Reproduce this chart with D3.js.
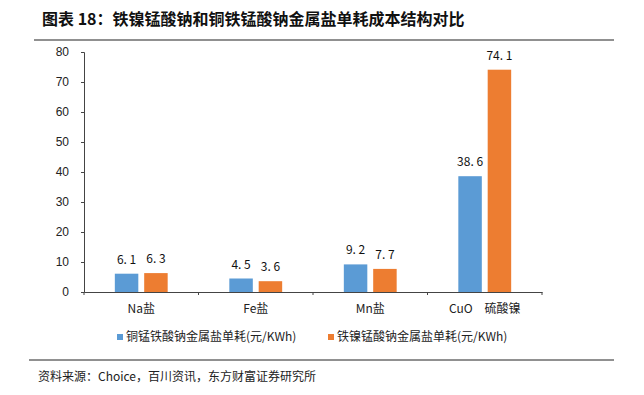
<!DOCTYPE html>
<html>
<head>
<meta charset="utf-8">
<script src="https://cdn.jsdelivr.net/npm/d3@7"></script>
<style>
  body { margin: 0; background: #fff; }
  svg { display: block; }
</style>
</head>
<body>
<div id="chart"></div>
<script>
var categories = ["Na盐", "Fe盐", "Mn盐", "CuO\u2003硫酸镍"];
var seriesNames = ["铜锰铁酸钠金属盐单耗(元/KWh)", "铁镍锰酸钠金属盐单耗(元/KWh)"];
var cuMnFe = [6.1, 4.5, 9.2, 38.6];
var feNiMn = [6.3, 3.6, 7.7, 74.1];
var yTicks = [0, 10, 20, 30, 40, 50, 60, 70, 80];
var colors = ["#5B9BD5", "#ED7D31"];

var w = 644, h = 395;
var cjk = "'Noto Sans CJK SC', sans-serif";
var svg = d3.select("#chart").append("svg").attr("width", w).attr("height", h);

// title + rules
svg.append("text").attr("x", 42).attr("y", 25)
  .attr("font-family", cjk).attr("font-weight", "bold").attr("font-size", 16)
  .attr("fill", "#111").text("图表 18：铁镍锰酸钠和铜铁锰酸钠金属盐单耗成本结构对比");
svg.append("line").attr("x1", 34).attr("x2", 614).attr("y1", 40).attr("y2", 40)
  .attr("stroke", "#222").attr("stroke-width", 1.2);
svg.append("line").attr("x1", 29).attr("x2", 614).attr("y1", 360).attr("y2", 360)
  .attr("stroke", "#222").attr("stroke-width", 1);
svg.append("text").attr("x", 38).attr("y", 381)
  .attr("font-family", cjk).attr("font-size", 12).attr("fill", "#222")
  .text("资料来源：Choice，百川资讯，东方财富证券研究所");

var x = d3.scaleBand().domain(categories).range([84, 542]);
var y = d3.scaleLinear().domain([0, 80]).range([292, 52]);
var inner = d3.scaleBand().domain([0, 1]).range([0, x.bandwidth()]).paddingInner(0.2).paddingOuter(1.05);

// y axis
var yAxis = svg.append("g").attr("transform", "translate(84,0)")
  .call(d3.axisLeft(y).tickValues(yTicks).tickSize(3).tickPadding(12).tickSizeOuter(3));
yAxis.selectAll("text").attr("font-family", "Arial, 'Liberation Sans'").attr("font-size", 12).attr("fill", "#222");
yAxis.selectAll("line, path").attr("stroke", "#444");

// bars
var series = [cuMnFe, feNiMn];
series.forEach(function(vals, s) {
  var g = svg.append("g");
  g.selectAll("rect").data(vals).enter().append("rect")
    .attr("x", function(d, i) { return x(categories[i]) + inner(s); })
    .attr("width", inner.bandwidth())
    .attr("y", function(d) { return y(d); })
    .attr("height", function(d) { return y(0) - y(d); })
    .attr("fill", colors[s]);
  g.selectAll("text").data(vals).enter().append("text")
    .attr("x", function(d, i) { return x(categories[i]) + inner(s) + inner.bandwidth() / 2; })
    .attr("y", function(d) { return y(d) - 10; })
    .attr("text-anchor", "middle")
    .attr("font-family", cjk).attr("font-size", 12).attr("fill", "#111")
    .text(function(d) { return d.toFixed(1).replace(".", ". "); });
});

// x axis
var xAxis = svg.append("g").attr("transform", "translate(0,292)")
  .call(d3.axisBottom(x).tickSize(0).tickPadding(12));
xAxis.select("path").attr("stroke", "#444");
xAxis.selectAll("text").attr("font-family", cjk).attr("font-size", 12).attr("fill", "#222");
var bounds = categories.map(function(c) { return x(c); }).concat([542]);
svg.append("g").selectAll("line").data(bounds).enter().append("line")
  .attr("x1", function(d) { return d; }).attr("x2", function(d) { return d; })
  .attr("y1", 292).attr("y2", 295).attr("stroke", "#444");

// legend
var lx = [117, 328];
seriesNames.forEach(function(name, s) {
  svg.append("rect").attr("x", lx[s]).attr("y", 334).attr("width", 6).attr("height", 6).attr("fill", colors[s]);
  svg.append("text").attr("x", lx[s] + 9).attr("y", 341)
    .attr("font-family", cjk).attr("font-size", 12).attr("fill", "#222").text(name);
});
</script>
</body>
</html>
